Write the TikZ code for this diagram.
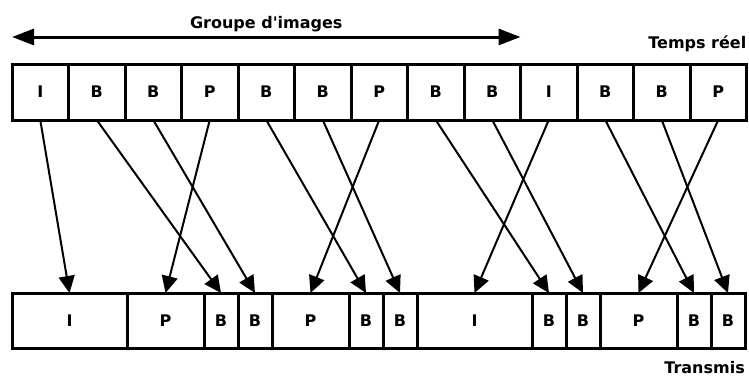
\documentclass[tikz,border=0pt]{standalone}
\usepackage{fontspec}
\setmainfont{DejaVu Sans}
\usetikzlibrary{positioning, arrows.meta}

\tikzset{
  frame/.style={draw, line width=3pt, outer sep=0pt, inner sep=0pt,
    font=\bfseries\fontsize{16}{18}\selectfont},
  real/.style={frame, minimum width=56.5pt, minimum height=56pt},
  slotI/.style={frame, minimum width=115pt, minimum height=55pt},
  slotP/.style={frame, minimum width=77pt, minimum height=55pt},
  slotB/.style={frame, minimum width=34pt, minimum height=55pt},
  caption/.style={inner sep=0pt, font=\bfseries\fontsize{16}{18}\selectfont},
  move/.style={line width=2pt, -{Triangle[length=17pt, width=16pt]}},
}

\begin{document}
\begin{tikzpicture}[x=1pt, y=1pt]
\useasboundingbox (0,0) rectangle (749,376);

% ordre d'affichage
\node (rI1) [real] at (40.25,284) {I};
\node (rB1) [real, right=0pt of rI1] {B};
\node (rB2) [real, right=0pt of rB1] {B};
\node (rP1) [real, right=0pt of rB2] {P};
\node (rB3) [real, right=0pt of rP1] {B};
\node (rB4) [real, right=0pt of rB3] {B};
\node (rP2) [real, right=0pt of rB4] {P};
\node (rB5) [real, right=0pt of rP2] {B};
\node (rB6) [real, right=0pt of rB5] {B};
\node (rI2) [real, right=0pt of rB6] {I};
\node (rB7) [real, right=0pt of rI2] {B};
\node (rB8) [real, right=0pt of rB7] {B};
\node (rP3) [real, right=0pt of rB8] {P};

% ordre de transmission
\node (tI1) [slotI] at (69.5,55.5) {I};
\node (tP1) [slotP, right=0pt of tI1] {P};
\node (tB1) [slotB, right=0pt of tP1] {B};
\node (tB2) [slotB, right=0pt of tB1] {B};
\node (tP2) [slotP, right=0pt of tB2] {P};
\node (tB3) [slotB, right=0pt of tP2] {B};
\node (tB4) [slotB, right=0pt of tB3] {B};
\node (tI2) [slotI, right=0pt of tB4] {I};
\node (tB5) [slotB, right=0pt of tI2] {B};
\node (tB6) [slotB, right=0pt of tB5] {B};
\node (tP3) [slotP, right=0pt of tB6] {P};
\node (tB7) [slotB, right=0pt of tP3] {B};
\node (tB8) [slotB, right=0pt of tB7] {B};

% groupe d'images
\coordinate (gopL) at ([yshift=27pt]rI1.north west);
\coordinate (gopR) at ([yshift=27pt]rB6.north east);
\draw[line width=3pt, {Triangle[length=22pt, width=16pt]}-{Triangle[length=22pt, width=16pt]}]
  (gopL) -- node (gop) [caption, midway, anchor=base, yshift=9pt] {Groupe d\textquotesingle images} (gopR);
\node (temps) [caption, anchor=base east] at ([yshift=16pt]rP3.north east) {Temps réel};
\node (trans) [caption, anchor=base east] at ([yshift=-25pt]tB8.south east) {Transmis};

\draw[move] (rI1.south) -- (tI1.north);
\draw[move] (rB1.south) -- (tB1.north);
\draw[move] (rB2.south) -- (tB2.north);
\draw[move] (rP1.south) -- (tP1.north);
\draw[move] (rB3.south) -- (tB3.north);
\draw[move] (rB4.south) -- (tB4.north);
\draw[move] (rP2.south) -- (tP2.north);
\draw[move] (rB5.south) -- (tB5.north);
\draw[move] (rB6.south) -- (tB6.north);
\draw[move] (rI2.south) -- (tI2.north);
\draw[move] (rB7.south) -- (tB7.north);
\draw[move] (rB8.south) -- (tB8.north);
\draw[move] (rP3.south) -- (tP3.north);
\end{tikzpicture}
\end{document}
